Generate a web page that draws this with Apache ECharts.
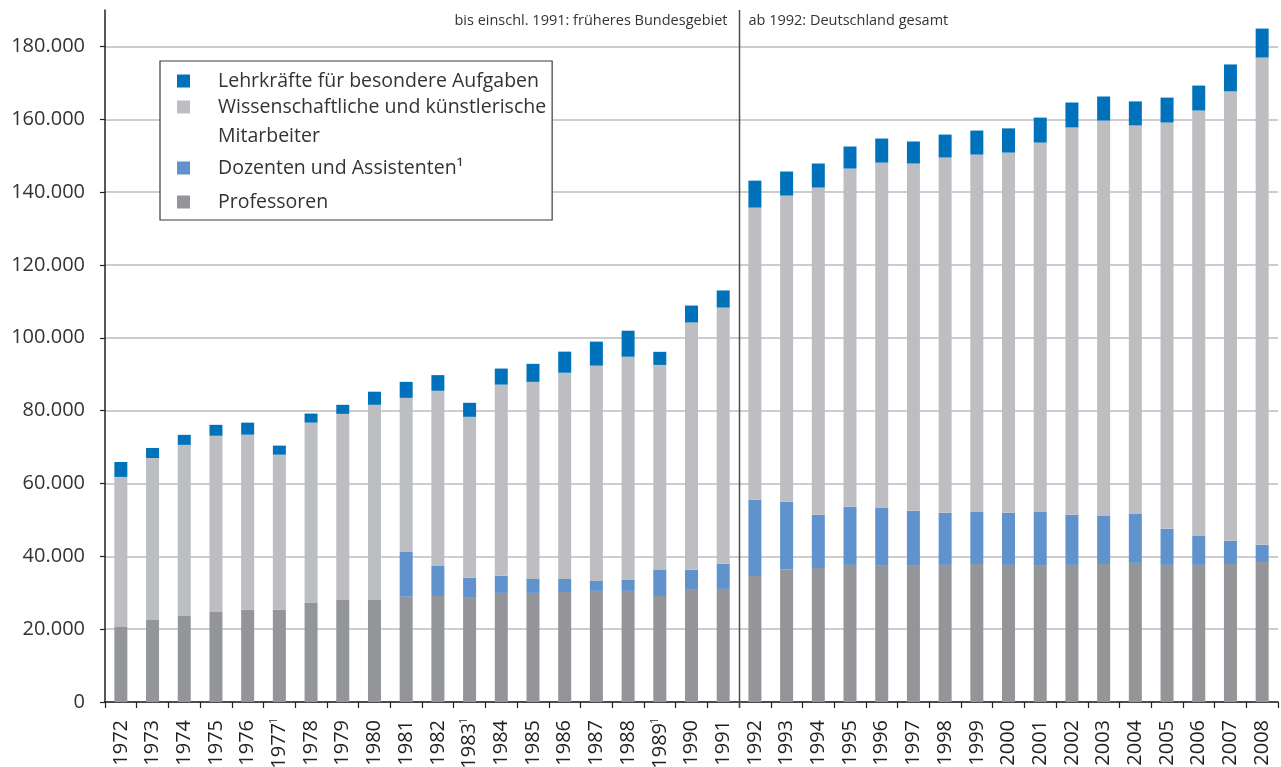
<!DOCTYPE html>
<html>
<head>
<meta charset="utf-8">
<title>Hochschulpersonal</title>
<script src="https://cdn.jsdelivr.net/npm/echarts@6/dist/echarts.min.js"></script>
<style>
  html, body { margin: 0; padding: 0; background: #ffffff; }
  #chart { width: 1281px; height: 767px; }
</style>
</head>
<body>
<div id="chart"></div>
<script>
// Jahre (¹ = Fußnote)
var years = ['1972', '1973', '1974', '1975', '1976', '1977¹', '1978', '1979', '1980', '1981',
  '1982', '1983¹', '1984', '1985', '1986', '1987', '1988', '1989¹', '1990', '1991',
  '1992', '1993', '1994', '1995', '1996', '1997', '1998', '1999', '2000', '2001',
  '2002', '2003', '2004', '2005', '2006', '2007', '2008'];

var professoren = [20600, 22500, 23600, 24700, 25300, 25300, 27200, 28000, 28000, 28900,
  29100, 28600, 29950, 29950, 30200, 30500, 30500, 29100, 30800, 31050,
  34600, 36400, 36800, 37650, 37400, 37400, 37650, 37900, 37650, 37400,
  37650, 37900, 38200, 37650, 37650, 37900, 38450];

var dozenten = [0, 0, 0, 0, 0, 0, 0, 0, 0, 12300,
  8250, 5500, 4700, 3850, 3600, 2750, 3000, 7150, 5500, 6900,
  20900, 18550, 14600, 15950, 15900, 15100, 14300, 14300, 14300, 14800,
  13750, 13200, 13450, 9900, 7950, 6350, 4700];

var mitarbeiter = [41200, 44500, 47000, 48400, 48100, 42600, 49500, 51100, 53600, 42300,
  48100, 44200, 52500, 54100, 56600, 59100, 61300, 56300, 67900, 70350,
  80250, 84100, 89850, 92870, 94800, 95350, 97550, 98100, 98900, 101400,
  106350, 108550, 106650, 111550, 116800, 123400, 133800];

var lehrkraefte = [4100, 2750, 2750, 3000, 3300, 2500, 2500, 2500, 3600, 4400,
  4300, 3850, 4400, 4950, 5800, 6600, 7150, 3600, 4650, 4700,
  7400, 6600, 6600, 6050, 6600, 6050, 6300, 6600, 6650, 6850,
  6850, 6600, 6600, 6850, 6850, 7400, 7950];

var FONT = '"Open Sans", "DejaVu Sans", sans-serif';
var NAME_LEHR = 'Lehrkräfte für besondere Aufgaben';
var NAME_WISS = 'Wissenschaftliche und künstlerische Mitarbeiter';
var NAME_DOZ = 'Dozenten und Assistenten¹';
var NAME_PROF = 'Professoren';

function fmtNum(v) {
  return String(v).replace(/\B(?=(\d{3})+(?!\d))/g, '.');
}

// Jahreszahl mit kleiner hochgestellter Fußnote
function fmtYear(v) {
  if (v.indexOf('¹') >= 0) {
    return '{y|' + v.replace('¹', '') + '}{sup|1}';
  }
  return '{y|' + v + '}';
}

function barSeries(name, data, color) {
  return {
    name: name,
    type: 'bar',
    stack: 'gesamt',
    barWidth: 13,
    data: data,
    itemStyle: { color: color },
    emphasis: { disabled: true }
  };
}

var chart = echarts.init(document.getElementById('chart'));

chart.setOption({
  animation: false,
  textStyle: { fontFamily: FONT },
  grid: { left: 105, right: 3, top: 10, bottom: 65, containLabel: false, outerBoundsMode: 'none' },
  legend: {
    orient: 'vertical',
    left: 160,
    top: 61,
    padding: [2.5, 6, 1.5, 17],
    borderColor: '#3c3c3c',
    borderWidth: 1.2,
    backgroundColor: '#ffffff',
    itemWidth: 13,
    itemHeight: 13,
    itemGap: -28.5,
    icon: 'rect',
    selectedMode: false,
    textStyle: { fontSize: 19.5, color: '#333333', fontFamily: FONT },
    formatter: function (name) {
      // leere erste Zeile, damit die erste Textzeile neben dem Symbol steht
      if (name === NAME_WISS) {
        return '\nWissenschaftliche und künstlerische\nMitarbeiter';
      }
      return name;
    },
    data: [
      { name: NAME_LEHR, textStyle: { lineHeight: 22, padding: [0, 0, 0, 23] } },
      { name: NAME_WISS, textStyle: { lineHeight: 29, padding: [0, 0, 0, 23] } },
      { name: NAME_DOZ, textStyle: { lineHeight: 92, padding: [0, 0, 0, 23] } },
      { name: NAME_PROF, textStyle: { lineHeight: 33, padding: [0, 0, 0, 23] } }
    ]
  },
  xAxis: {
    type: 'category',
    data: years,
    axisLine: { lineStyle: { color: '#231f20', width: 1.5 } },
    axisTick: { show: true, length: 6, lineStyle: { color: '#231f20', width: 1.2 } },
    axisLabel: {
      rotate: 90,
      interval: 0,
      margin: 18,
      color: '#231f20',
      fontFamily: FONT,
      formatter: fmtYear,
      rich: {
        y: { fontSize: 20, lineHeight: 22, fontFamily: FONT, color: '#231f20' },
        sup: {
          fontSize: 10, lineHeight: 22, width: 2, align: 'left', verticalAlign: 'top',
          fontFamily: FONT, color: '#231f20', padding: [1, 0, 0, 1]
        }
      }
    }
  },
  yAxis: {
    type: 'value',
    min: 0,
    max: 190000,
    interval: 20000,
    axisLine: { show: true, lineStyle: { color: '#231f20', width: 1.5 } },
    axisTick: { show: true, length: 5, lineStyle: { color: '#231f20', width: 1.2 } },
    axisLabel: {
      showMaxLabel: false,
      margin: 20,
      fontSize: 20,
      color: '#333333',
      fontFamily: FONT,
      formatter: fmtNum
    },
    splitLine: {
      show: true,
      showMaxLine: false,
      lineStyle: { color: '#cdcdcd', width: 2 }
    }
  },
  series: [
    barSeries(NAME_PROF, professoren, '#939598'),
    barSeries(NAME_DOZ, dozenten, '#6092ce'),
    barSeries(NAME_WISS, mitarbeiter, '#bdbec2'),
    barSeries(NAME_LEHR, lehrkraefte, '#0072bc')
  ]
});

// Trennlinie zwischen 1991 und 1992
var p1991 = chart.convertToPixel({ xAxisIndex: 0 }, '1991');
var p1992 = chart.convertToPixel({ xAxisIndex: 0 }, '1992');
var sepX = Math.round((p1991 + p1992) / 2) + 0.5;
var yTop = chart.convertToPixel({ yAxisIndex: 0 }, 190000);
var yBottom = chart.convertToPixel({ yAxisIndex: 0 }, 0);

chart.setOption({
  graphic: [
    {
      type: 'line',
      shape: { x1: sepX, y1: yTop, x2: sepX, y2: yBottom + 6 },
      style: { stroke: '#4d4d4d', lineWidth: 1.5 },
      z: 10
    },
    {
      type: 'text',
      x: sepX - 12,
      y: yTop + 11,
      style: {
        text: 'bis einschl. 1991: früheres Bundesgebiet',
        fontSize: 14.5,
        fontFamily: FONT,
        fill: '#333333',
        align: 'right',
        verticalAlign: 'middle'
      }
    },
    {
      type: 'text',
      x: sepX + 9,
      y: yTop + 11,
      style: {
        text: 'ab 1992: Deutschland gesamt',
        fontSize: 14.5,
        fontFamily: FONT,
        fill: '#333333',
        align: 'left',
        verticalAlign: 'middle'
      }
    }
  ]
});

window.addEventListener('resize', function () {
  chart.resize();
});
</script>
</body>
</html>
